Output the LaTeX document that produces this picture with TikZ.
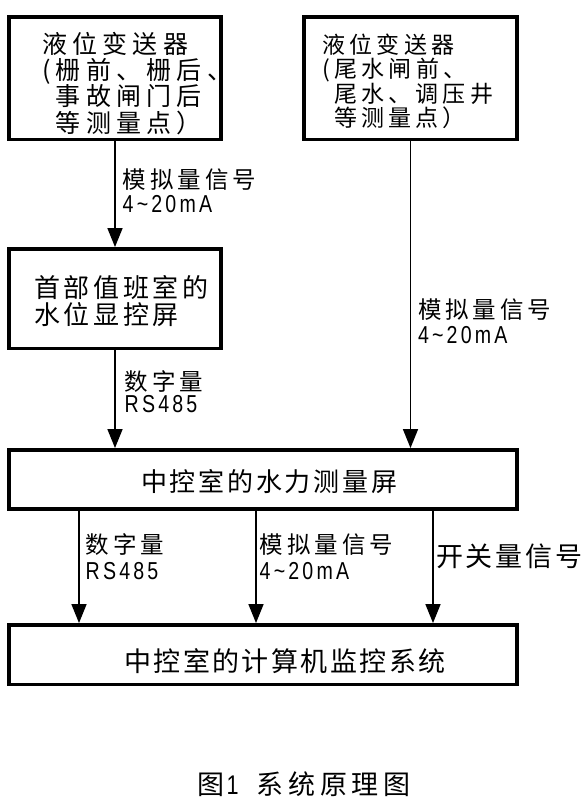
\documentclass[tikz,border=0pt]{standalone}
\usepackage{fontspec}
\setmainfont{Noto Sans CJK SC}
\newfontfamily\latf[FakeStretch=0.8,LetterSpace=13]{Liberation Sans}
\usetikzlibrary{arrows.meta}
\newcommand\zh[3]{\fontsize{#1}{#3}\selectfont\addfontfeatures{LetterSpace=#2}}
\newcommand\lat[1]{{\latf\fontsize{24.5}{24}\selectfont #1}}
\begin{document}
\begin{tikzpicture}[x=1pt,y=-1pt,
  box/.style={draw, line width=3.5pt, inner sep=0pt, outer sep=0pt},
  arr/.style={line width=1.6pt, -{Triangle[width=15pt,length=19pt]}, shorten >=2pt},
  txt/.style={anchor=north west, inner sep=0pt, align=left}]
\path[use as bounding box] (0,0) rectangle (582,803);
% boxes
\node[box, minimum width=211.9pt, minimum height=122.5pt] (b1) at (115,78) {};
\node[box, minimum width=212.9pt, minimum height=122.5pt] (b2) at (410.5,78) {};
\node[box, minimum width=211.9pt, minimum height=99.2pt] (b3) at (115,298.65) {};
\node[box, minimum width=507.9pt, minimum height=58.9pt] (b4) at (263,479.5) {};
\node[box, minimum width=507.9pt, minimum height=59.2pt] (b5) at (263,654.65) {};
% box texts
\node[txt, font=\zh{25}{21}{26.4}] (t1) at (42,31.7) {液位变送器\\(栅前、栅后、\\\hspace*{13.7pt}事故闸门后\\\hspace*{13.7pt}等测量点）};
\node[txt, font=\zh{23}{18}{24.5}] (t2) at (322.5,33.3) {液位变送器\\(尾水闸前、\\\hspace*{11.7pt}尾水、调压井\\\hspace*{11.7pt}等测量点）};
\node[txt, font=\zh{26}{14}{27.5}] (t3) at (34,275) {首部值班室的\\水位显控屏};
\node[txt, font=\zh{26}{10.6}{26}] (t4) at (141,469.3) {中控室的水力测量屏};
\node[txt, font=\zh{27}{9}{26}] (t5) at (124,648.3) {中控室的计算机监控系统};
% arrows
\draw[arr] (b1.south) -- (b3.north);
\draw[arr] (b3.south) -- (b3.south |- b4.north);
\draw[arr] (b2.south) -- (b2.south |- b4.north);
\draw[arr] ([xshift=69.95pt]b4.south west) -- ([xshift=69.95pt]b5.north west);
\draw[arr] ([xshift=246.95pt]b4.south west) -- ([xshift=246.95pt]b5.north west);
\draw[arr] ([xshift=423.95pt]b4.south west) -- ([xshift=423.95pt]b5.north west);
% labels
\node[txt, font=\zh{23.5}{17}{24.5}] (l1) at (122.5,168.3) {模拟量信号\\\lat{4\textasciitilde 20mA}};
\node[txt, font=\zh{23.5}{17}{22}] (l2) at (124.5,370) {数字量\\\lat{RS485}};
\node[txt, font=\zh{23.5}{17}{25}] (l3) at (417.8,298.3) {模拟量信号\\\lat{4\textasciitilde 20mA}};
\node[txt, font=\zh{23.5}{17}{26}] (l4) at (85.5,533.3) {数字量\\\lat{RS485}};
\node[txt, font=\zh{23.5}{17}{26}] (l5) at (259.5,533.3) {模拟量信号\\\lat{4\textasciitilde 20mA}};
\node[txt, font=\zh{27}{10}{26}] (l6) at (436,543.3) {开关量信号};
% caption
\node[txt, font=\zh{27}{17.6}{26}] (cap) at (197.5,771.7) {图\hspace*{2pt}{\latf\fontsize{27}{26}\selectfont 1}\hspace*{18pt}系统原理图};
\end{tikzpicture}
\end{document}
